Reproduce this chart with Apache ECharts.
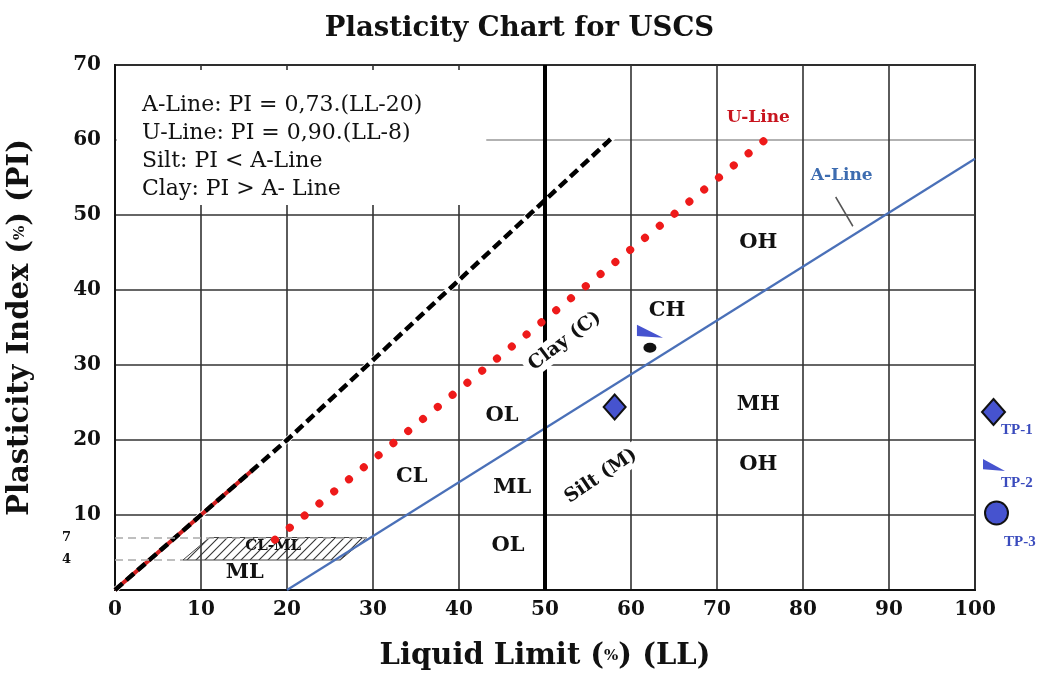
<!DOCTYPE html>
<html><head><meta charset="utf-8">
<script src="https://cdn.jsdelivr.net/npm/echarts@6/dist/echarts.min.js"></script>
<style>html,body{margin:0;padding:0;background:#fff}#c{width:1039px;height:675px}</style>
</head><body><div id="c"></div><script>
// ---------------- data ----------------
const yTickValues = [4, 7, 10, 20, 30, 40, 50, 60, 70];
const uplLL = [0, 20, 57.9];          // PI = LL limit line (black dashed)
const uplPI = [0, 20, 60.4];
const redLL = [0, 16];
const redPI = [0, 16];
const uLineLL = [18.6, 76];           // U-Line (red dots)
const uLinePI = [6.7, 60.4];
const aLineLL = [20, 100];            // A-Line (blue)
const aLinePI = [0, 57.5];
const leaderLL = [83.8, 85.8];
const leaderPI = [52.4, 48.5];
const hatchLL = [11, 29.3, 26.2, 7.9]; // CL-ML zone
const hatchPI = [7, 7, 4, 4];
const zoneNames = ['OH', 'CH', 'MH', 'OH', 'OL', 'ML', 'CL', 'OL', 'CL-ML', 'ML'];
const zoneLL = [74.8, 64.2, 74.8, 74.8, 45, 46.2, 34.5, 45.7, 18.4, 15.1];
const zonePI = [46.3, 37.3, 24.7, 16.7, 23.3, 13.6, 15.1, 5.9, 5.9, 2.3];
const rotNames = ['Clay (C)', 'Silt (M)'];
const rotLL = [52.3, 56.5];
const rotPI = [33.2, 15.2];
const rotDeg = [37, 34];
const lineNames = ['U-Line', 'A-Line'];
const lineLabelLL = [74.8, 84.5];
const lineLabelPI = [63, 55.3];
const tpNames = ['TP-1', 'TP-2', 'TP-3'];
const tpLL = [58.1, 62.2, 62.2];
const tpPI = [24.4, 34.5, 32.3];
const noteLines = ['A-Line: PI = 0,73.(LL-20)', 'U-Line: PI = 0,90.(LL-8)', 'Silt: PI < A-Line', 'Clay: PI > A- Line'];

// ---------------- helpers ----------------
const SERIF = "'DejaVu Serif', 'Liberation Serif', serif";
const TIMES = "'Liberation Serif', 'DejaVu Serif', serif";
const pair = (xs, ys) => xs.map((x, i) => [x, ys[i]]);
const BLUE = '#4653cf';
const WEDGE = 'path://M0,0L0,12L26,14Z';

const pc = document.createElement('canvas');
pc.width = 9; pc.height = 9;
const g = pc.getContext('2d');
g.strokeStyle = '#333'; g.lineWidth = 1.1;
g.beginPath(); g.moveTo(0, 9); g.lineTo(9, 0); g.stroke();
g.beginPath(); g.moveTo(-2, 2); g.lineTo(2, -2); g.moveTo(7, 11); g.lineTo(11, 7); g.stroke();

const legendText = { fontFamily: TIMES, fontWeight: 'bold', fontSize: 15, color: '#3a4bbd', padding: [0, 0, 0, -9] };
const legendCfg = [
  { left: 981, top: 376, itemWidth: 23, itemHeight: 26, lh: 36, item: { name: tpNames[0] } },
  { left: 983, top: 429, itemWidth: 22, itemHeight: 12, lh: 36, item: { name: tpNames[1] } },
  { left: 984, top: 455, itemWidth: 23, itemHeight: 23, lh: 58,
    item: { name: tpNames[2], icon: 'circle', itemStyle: { color: BLUE, borderColor: '#111', borderWidth: 2 } } }
];

const plain = { color: 'rgba(0,0,0,0)', opacity: 1 };

const chart = echarts.init(document.getElementById('c'));
const option = {
  animation: false,
  backgroundColor: '#fff',
  title: [
    { text: 'Plasticity Chart for USCS', left: 'center', top: 10,
      textStyle: { fontFamily: SERIF, fontWeight: 'bold', fontSize: 27.5, color: '#111' } },
    { text: noteLines.join('\n'), left: 117, top: 70, backgroundColor: '#fff',
      padding: [21, 64, 2, 25],
      textStyle: { fontFamily: SERIF, fontWeight: 'normal', fontSize: 22, lineHeight: 28, color: '#111' } }
  ],
  legend: legendCfg.map(c => ({
    orient: 'vertical', left: c.left, top: c.top, padding: 0,
    itemWidth: c.itemWidth, itemHeight: c.itemHeight, selectedMode: false,
    data: [c.item], formatter: '\n{name}',
    textStyle: Object.assign({ lineHeight: c.lh }, legendText)
  })),
  grid: { left: 115, top: 65, width: 860, height: 525, show: true, borderColor: '#222', borderWidth: 2,
          outerBoundsMode: 'none', containLabel: false },
  xAxis: {
    type: 'value', min: 0, max: 100, interval: 10,
    name: '{a|Liquid Limit (}{p|%}{a|) (LL)}', nameLocation: 'middle', nameGap: 52,
    nameTextStyle: { rich: {
      a: { fontFamily: SERIF, fontWeight: 'bold', fontSize: 29, color: '#111' },
      p: { fontFamily: SERIF, fontWeight: 'bold', fontSize: 15, color: '#111' } } },
    axisLine: { show: true, onZero: false, lineStyle: { color: '#111', width: 2 } },
    axisTick: { show: false },
    axisLabel: { fontFamily: SERIF, fontWeight: 'bold', fontSize: 20, color: '#111', margin: 10 },
    splitLine: { show: true, lineStyle: { color: '#333', width: 1.6 } }
  },
  yAxis: {
    type: 'value', min: 0, max: 70, interval: 10,
    name: '{a|Plasticity Index (}{p|%}{a|) (PI)}', nameLocation: 'middle', nameGap: 80, nameRotate: 90,
    nameTextStyle: { rich: {
      a: { fontFamily: SERIF, fontWeight: 'bold', fontSize: 29, color: '#111' },
      p: { fontFamily: SERIF, fontWeight: 'bold', fontSize: 15, color: '#111' } } },
    axisLine: { show: true, onZero: false, lineStyle: { color: '#111', width: 2 } },
    axisTick: { show: false },
    axisLabel: {
      customValues: yTickValues, margin: 14,
      formatter: v => (v < 10 ? '{s|' + v + '}' : '{b|' + v + '}'),
      rich: {
        b: { fontFamily: SERIF, fontWeight: 'bold', fontSize: 20, color: '#111' },
        s: { fontFamily: SERIF, fontWeight: 'bold', fontSize: 13, color: '#111', padding: [0, 30, 0, 0] } }
    },
    splitLine: { show: true, lineStyle: { color: ['#333', '#333', '#333', '#333', '#333', '#333', '#999', '#333'], width: 1.6 } }
  },
  series: [
    { // CL-ML hatched zone
      type: 'custom', coordinateSystem: 'cartesian2d', z: 2, silent: true,
      data: [[hatchLL[0], hatchPI[0]]],
      renderItem: (p, api) => ({
        type: 'polygon',
        shape: { points: hatchLL.map((x, i) => api.coord([x, hatchPI[i]])) },
        style: { fill: { image: pc, repeat: 'repeat' }, stroke: '#444', lineWidth: 1 }
      })
    },
    { // helper for reference lines
      type: 'line', data: [], z: 3, silent: true,
      markLine: {
        symbol: 'none', silent: true, label: { show: false },
        data: [
          { xAxis: 50, lineStyle: { color: '#000', width: 4, type: 'solid' } },
          [{ coord: [0, 7], lineStyle: { color: '#aaa', width: 1.5, type: [8, 5] } }, { coord: [29.3, 7] }],
          [{ coord: [0, 4], lineStyle: { color: '#aaa', width: 1.5, type: [8, 5] } }, { coord: [7.9, 4] }]
        ]
      }
    },
    { type: 'line', data: pair(uplLL, uplPI), symbol: 'none', silent: true, z: 3,
      lineStyle: { color: '#fff', width: 6 } },
    { type: 'line', data: pair(redLL, redPI), symbol: 'none', silent: true, z: 3,
      lineStyle: { color: '#d42020', width: 4 } },
    { type: 'line', data: pair(uplLL, uplPI), symbol: 'none', silent: true, z: 4,
      lineStyle: { color: '#000', width: 4.5, type: [10, 5] } },
    { type: 'line', data: pair(aLineLL, aLinePI), symbol: 'none', silent: true, z: 4,
      lineStyle: { color: '#4a70b8', width: 2.2 } },
    { type: 'line', data: pair(leaderLL, leaderPI), symbol: 'none', silent: true, z: 4,
      lineStyle: { color: '#555', width: 1.5 } },
    { // zone labels
      type: 'scatter', silent: true, z: 10, symbolSize: 1, itemStyle: plain,
      data: zoneNames.map((n, i) => {
        const d = { name: n, value: [zoneLL[i], zonePI[i]] };
        if (n === 'CL-ML') d.label = { fontSize: 15 };
        if (n === 'CH') d.label = { backgroundColor: '#fff', padding: [4, 4] };
        return d;
      }),
      label: { show: true, position: 'inside', formatter: '{b}', fontFamily: SERIF, fontWeight: 'bold', fontSize: 21, color: '#111' }
    },
    { // rotated zone labels
      type: 'scatter', silent: true, z: 10, symbolSize: 1, itemStyle: plain,
      data: rotNames.map((n, i) => ({ name: n, value: [rotLL[i], rotPI[i]], label: { rotate: rotDeg[i] } })),
      label: { show: true, position: 'inside', formatter: '{b}', fontFamily: SERIF, fontWeight: 'bold', fontSize: 19, color: '#111',
               backgroundColor: '#fff', padding: [2, 5] }
    },
    { // line name labels
      type: 'scatter', silent: true, z: 10, symbolSize: 1, itemStyle: plain,
      data: lineNames.map((n, i) => ({ name: n, value: [lineLabelLL[i], lineLabelPI[i]],
        label: { color: i === 0 ? '#c8141e' : '#3d6cb0' } })),
      label: { show: true, position: 'inside', formatter: '{b}', fontFamily: SERIF, fontWeight: 'bold', fontSize: 17 }
    },
    { type: 'line', data: pair(uLineLL, uLinePI), symbol: 'none', silent: true, z: 11,
      lineStyle: { color: '#ee1a1a', width: 8, type: [0.1, 19], cap: 'round' } },
    { name: tpNames[0], type: 'scatter', z: 12, data: [[tpLL[0], tpPI[0]]], symbol: 'diamond', symbolSize: [22, 25],
      itemStyle: { color: BLUE, borderColor: '#111', borderWidth: 2, opacity: 1 } },
    { name: tpNames[1], type: 'scatter', z: 12, data: [[tpLL[1], tpPI[1]]], symbol: WEDGE, symbolSize: [26, 13],
      itemStyle: { color: BLUE, opacity: 1 } },
    { name: tpNames[2], type: 'scatter', z: 12, data: [[tpLL[2], tpPI[2]]], symbol: 'circle', symbolSize: [13, 10],
      itemStyle: { color: '#111', opacity: 1 } }
  ]
};
chart.setOption(option);
</script></body></html>
